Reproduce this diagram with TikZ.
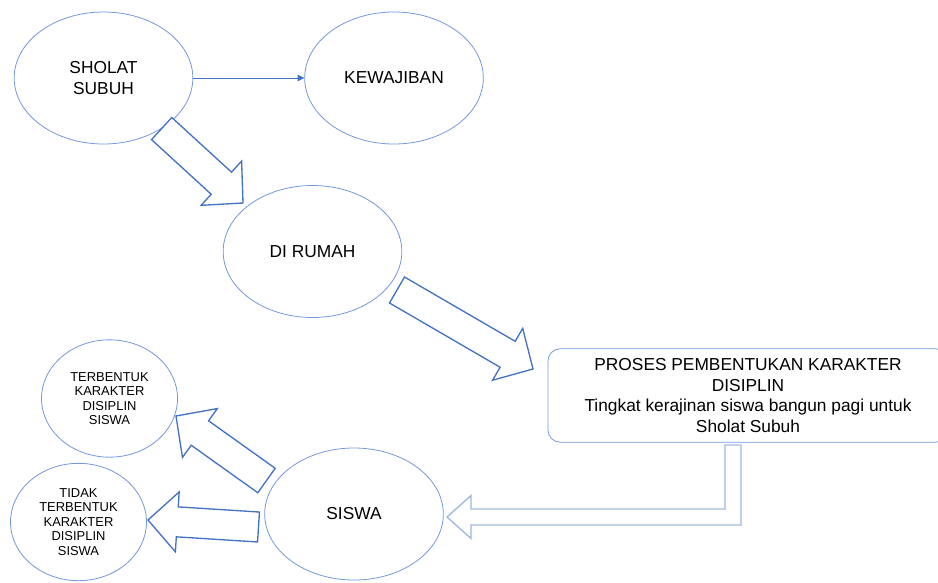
\documentclass[tikz,border=0pt]{standalone}
\usepackage{fontspec}
\setmainfont{Liberation Sans}
\usetikzlibrary{shapes.geometric,calc,arrows.meta}
\definecolor{bubbleblue}{HTML}{7399DC}
\definecolor{arrowblue}{HTML}{4472C4}
\definecolor{paleblue}{HTML}{9FB7E2}
\tikzset{
  bubble/.style={ellipse, draw=bubbleblue, line width=0.6pt, align=center,
    inner sep=0pt, minimum width=134pt, minimum height=99pt,
    font=\fontsize{13}{15.5}\selectfont},
  smallbubble/.style={bubble, minimum width=102pt, minimum height=88pt,
    font=\fontsize{9.7}{10.9}\selectfont},
  procbox/.style={rectangle, rounded corners=9pt, draw=bubbleblue,
    line width=0.6pt, align=center, minimum width=300pt,
    minimum height=70pt, font=\fontsize{13}{15.5}\selectfont},
  thinarrow/.style={draw=arrowblue, line width=0.6pt,
    -{Triangle[length=5pt,width=5pt]}},
  blockarrow/.style={draw=arrowblue, line width=1pt, fill=white,
    line join=miter,
    to path={($(\tikztostart)!11.25pt!90:(\tikztotarget)$)
      -- ($(\tikztotarget)!22pt!(\tikztostart)!11.25pt!-90:(\tikztostart)$)
      -- ($(\tikztotarget)!22pt!(\tikztostart)!22.5pt!-90:(\tikztostart)$)
      -- (\tikztotarget)
      -- ($(\tikztotarget)!22pt!(\tikztostart)!22.5pt!90:(\tikztostart)$)
      -- ($(\tikztotarget)!22pt!(\tikztostart)!11.25pt!90:(\tikztostart)$)
      -- ($(\tikztostart)!11.25pt!-90:(\tikztotarget)$) -- cycle}},
  elbowarrow/.style={draw=paleblue, line width=1pt, fill=white,
    line join=miter}
}
\begin{document}
\begin{tikzpicture}[x=0.75pt,y=-0.75pt]
  \useasboundingbox (0,0) rectangle (938,582);
  \node[bubble] (sholat) at (103.5,78) {SHOLAT\\SUBUH};
  \node[bubble] (kewajiban) at (394,78) {KEWAJIBAN};
  \node[bubble] (rumah) at (312.5,251.5) {DI RUMAH};
  \node[procbox] (proses) at (748,395.5) {PROSES PEMBENTUKAN KARAKTER\\DISIPLIN\\Tingkat kerajinan siswa bangun pagi untuk\\Sholat Subuh};
  \node[bubble] (siswa) at (354,514) {SISWA};
  \node[smallbubble] (terbentuk) at (109.5,398.5) {TERBENTUK\\KARAKTER\\DISIPLIN\\SISWA};
  \node[smallbubble] (tidak) at (78.5,522) {TIDAK\\TERBENTUK\\KARAKTER\\DISIPLIN\\SISWA};

  \coordinate (rumah-in) at (243,203);
  \coordinate (rumah-out) at (397,290);
  \coordinate (proses-in) at (533,369);
  \coordinate (siswa-up) at (266.5,480.5);
  \coordinate (siswa-left) at (258.5,527);
  \coordinate (terbentuk-in) at (176,416);
  \coordinate (tidak-in) at (148,520);

  \draw[thinarrow] (sholat.east) -- (kewajiban.west);
  \draw[blockarrow] (sholat.-41) to (rumah-in);
  \draw[blockarrow] (rumah-out) to (proses-in);
  \draw[blockarrow] (siswa-up) to (terbentuk-in);
  \draw[blockarrow] (siswa-left) to (tidak-in);
  \draw[elbowarrow] (725,445) -- (741,445) -- (741,525) -- (471,525)
    -- (471,538.5) -- (447,517) -- (471,495.5) -- (471,509)
    -- (725,509) -- cycle;
\end{tikzpicture}
\end{document}
